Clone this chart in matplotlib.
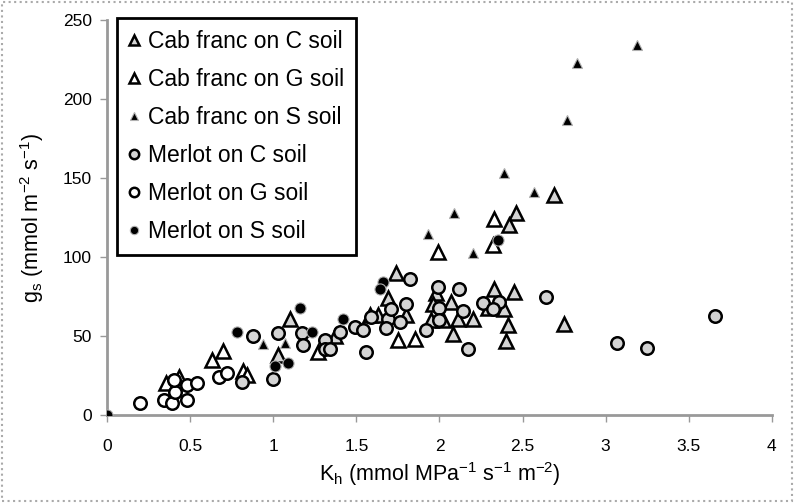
import matplotlib
matplotlib.use('Agg')
import matplotlib.pyplot as plt
from matplotlib.patches import Rectangle

plt.rcParams['font.family'] = ['Liberation Sans', 'DejaVu Sans']
plt.rcParams['mathtext.default'] = 'regular'

# Cab franc
cf_c_x = [1.10, 1.03, 1.37, 1.58, 1.63, 1.74, 1.69, 1.80, 1.98, 1.96, 2.07, 1.95, 2.02,
          2.11, 2.20, 2.29, 2.39, 2.33, 2.45, 2.41, 2.75, 2.08, 2.40, 2.46, 2.42, 2.69]
cf_c_y = [61, 38, 50, 63, 63, 90, 74, 63, 77, 70, 71.5, 60, 60,
          61, 61, 68, 67, 80, 78, 57, 57.5, 51, 47, 128, 120, 139]
cf_g_x = [0.355, 0.43, 0.63, 0.70, 0.82, 0.84, 1.99, 2.32, 2.33, 1.27, 1.75, 1.85]
cf_g_y = [20, 24, 35, 40.5, 28, 25, 103, 107.6, 124, 40, 47.5, 48]
cf_s_x = [3.19, 2.83, 2.77, 2.39, 2.57, 2.09, 1.93, 2.20, 1.07, 0.94]
cf_s_y = [234, 223, 187, 153, 141, 128, 114.5, 102.5, 45.5, 45]

# Merlot
me_c_x = [0.81, 1.00, 0.88, 1.03, 1.17, 1.18, 1.31, 1.31, 1.34, 1.40, 1.49, 1.54, 1.56,
          1.59, 1.69, 1.76, 1.68, 1.71, 1.80, 1.82, 1.99, 2.12, 2.00, 2.00, 1.92, 2.14,
          2.26, 2.36, 2.32, 2.17, 2.64, 3.07, 3.25, 3.66]
me_c_y = [21, 23, 50, 52, 52, 44, 47.5, 42, 42, 52.5, 56, 54, 40,
          62, 61, 59, 55, 67, 70, 86, 81, 80, 68, 60, 54, 66,
          71, 71.5, 67, 42, 75, 45.5, 42.5, 62.5]
me_g_x = [0.20, 0.34, 0.39, 0.48, 0.41, 0.40, 0.48, 0.54, 0.67, 0.72]
me_g_y = [7.6, 9.5, 7.6, 9.5, 14.5, 22, 19, 20, 24, 26.6]
me_s_x = [0.0, 0.78, 1.16, 1.23, 1.01, 1.09, 1.42, 1.66, 1.64, 2.35]
me_s_y = [0, 52.5, 68, 52.5, 31, 33, 61, 84, 80, 111]

x_ticks = [0, 0.5, 1, 1.5, 2, 2.5, 3, 3.5, 4]
x_tick_labels = ['0', '0.5', '1', '1.5', '2', '2.5', '3', '3.5', '4']
y_ticks = [0, 50, 100, 150, 200, 250]

fig = plt.figure(figsize=(7.94, 5.03), dpi=100)
ax = fig.add_axes([0.135, 0.175, 0.837, 0.785])

gray_fill = '#d4d4d4'
ax.plot(cf_c_x, cf_c_y, '^', ms=9.5, mfc=gray_fill, mec='black', mew=1.8, ls='none',
        label='Cab franc on C soil', zorder=3)
ax.plot(cf_g_x, cf_g_y, '^', ms=9.5, mfc='white', mec='black', mew=1.8, ls='none',
        label='Cab franc on G soil', zorder=3)
ax.plot(cf_s_x, cf_s_y, '^', ms=7.5, mfc='black', mec='#b0b0b0', mew=0.8, ls='none',
        label='Cab franc on S soil', zorder=4)
ax.plot(me_c_x, me_c_y, 'o', ms=9, mfc=gray_fill, mec='black', mew=1.8, ls='none',
        label='Merlot on C soil', zorder=3)
ax.plot(me_g_x, me_g_y, 'o', ms=9, mfc='white', mec='black', mew=1.8, ls='none',
        label='Merlot on G soil', zorder=3)
ax.plot(me_s_x, me_s_y, 'o', ms=8, mfc='black', mec='#b0b0b0', mew=0.8, ls='none',
        label='Merlot on S soil', zorder=4)

ax.set_xlim(0, 4)
ax.set_ylim(0, 250)
ax.set_xticks(x_ticks)
ax.set_xticklabels(x_tick_labels)
ax.set_yticks(y_ticks)
for s in ['top', 'right']:
    ax.spines[s].set_visible(False)
for s in ['left', 'bottom']:
    ax.spines[s].set_color('#999999')
    ax.spines[s].set_linewidth(2)
ax.tick_params(axis='both', colors='#999999', labelcolor='black', labelsize=12.5,
               direction='out', length=5, width=1)
ax.tick_params(axis='x', pad=12)
ax.tick_params(axis='y', pad=6)

ax.set_xlabel('K$_h$ (mmol MPa$^{-1}$ s$^{-1}$ m$^{-2}$)', fontsize=15.5, labelpad=5)
ax.set_ylabel('g$_s$ (mmol m$^{-2}$ s$^{-1}$)', fontsize=15.5, labelpad=12)

leg = ax.legend(loc='upper left', bbox_to_anchor=(0.015, 1.005), borderaxespad=0,
                fontsize=16.5, markerscale=0.75, handlelength=0.5, handletextpad=0.35,
                labelspacing=0.66, borderpad=0.5, fancybox=False, framealpha=1)
leg.get_frame().set_edgecolor('black')
leg.get_frame().set_linewidth(2)

fig.patches.append(Rectangle((0.002, 0.003), 0.996, 0.994, transform=fig.transFigure,
                             fill=False, edgecolor='#aaaaaa', linestyle=':', linewidth=1.5))

fig.savefig('out.png', dpi=100)
